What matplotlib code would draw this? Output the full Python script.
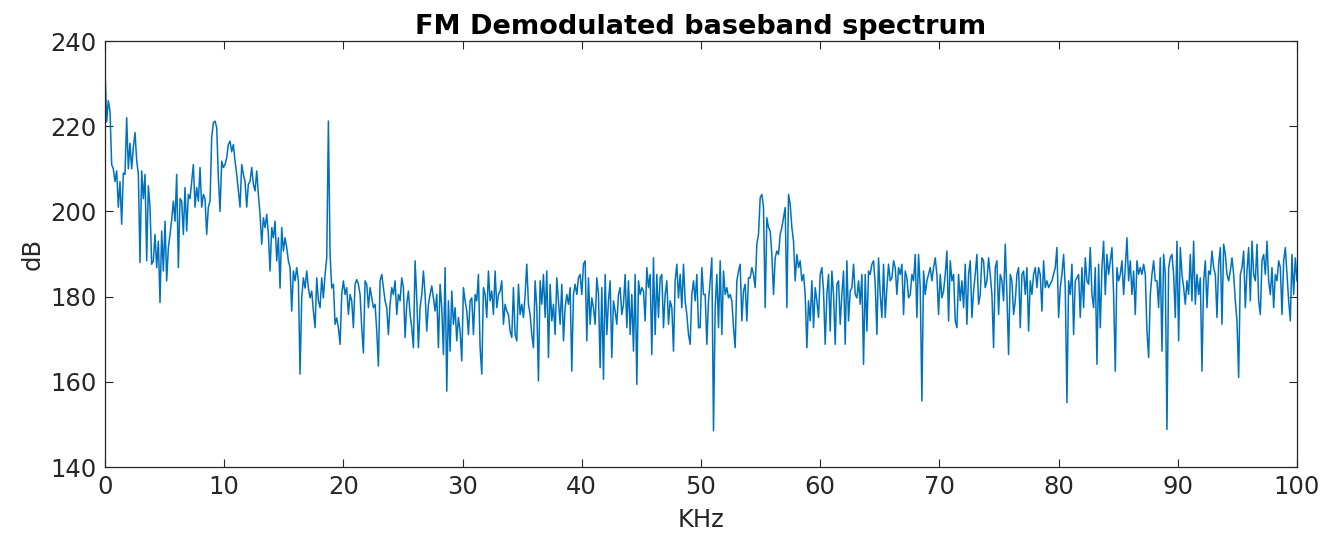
import numpy as np
import matplotlib
matplotlib.use("Agg")
import matplotlib.pyplot as plt

# dB values, band by band (uniform frequency bins)
db_00_10 = [233.5, 221, 226, 223.5, 211, 210, 207, 209.5, 201, 207,
            197, 209, 208.7, 222, 210, 216, 210, 215, 218.5, 212,
            208.7, 188, 209.5, 203, 208.7, 188.4, 206, 201, 187.6, 188.4,
            194.6, 186.8, 193, 178.6, 195.4, 186, 197.7, 183.7, 191.5, 194.6,
            198, 202.4, 197.7, 208.7, 186.8, 203, 202.4, 194.6, 205.6, 195.4,
            204, 203, 207, 211, 201, 205.6, 202.4, 210.3, 201, 204,
            203, 194.6, 201, 202.4, 217.3, 220.8, 221.2, 219.7, 208, 200,
            211.8, 210.3]
db_10_20 = [211, 212.6, 215.7, 216.5, 214, 215.7, 211.8, 208.7, 204.8, 201,
            211, 208.7, 207, 201, 206.4, 207, 210.3, 206.4, 204.8, 209.5,
            204, 199.3, 192.3, 198.5, 196.2, 199.3, 194.6, 186, 196.2, 193.8,
            197.7, 188.4, 193.8, 182, 196.2, 190.7, 193.8, 191.5, 188.4, 186.8,
            176.6, 186, 183.7, 186.8, 183.7, 161.8, 179.7, 184.4, 182, 186,
            182, 179.7, 181.3, 176.6, 172.7, 184.4, 179, 177.4, 184.4, 179.7,
            185.2, 189.1, 221.2, 190, 182, 182.9, 173.5, 175, 172.7, 168.8,
            180.5, 183.7]
db_20_30 = [180.5, 182.1, 175.8, 180.5, 179, 172.7, 182.9, 184, 182.9, 180.5,
            172.7, 166.8, 183.7, 182.9, 177.4, 182.1, 179.7, 177.4, 178.2, 171.9,
            163.7, 183.7, 185.2, 182.1, 179, 177.4, 171.1, 178.2, 182.1, 180.5,
            183.7, 175.8, 180.5, 179, 184.4, 182.1, 170.4, 178.2, 181.3, 175.8,
            172.7, 168, 188.4, 179.7, 168, 177.4, 180.5, 186, 180.5, 171.9,
            178.2, 180.5, 182.5, 179.7, 176.6, 180.5, 168, 182.9, 177.4, 166.4,
            186.8, 157.8, 179, 167.2, 181.3, 173.5, 177.4, 169.6, 175.1, 171.9,
            164.9, 182.1]
db_30_40 = [179, 176.6, 171.1, 179, 179.7, 171.1, 180.5, 179, 185.2, 168,
            161.8, 182.1, 180.5, 175.1, 186, 179, 181.3, 175.8, 186, 177.4,
            180.5, 181.3, 183.7, 173.5, 178.2, 176.6, 175.8, 171.9, 170.4, 182.1,
            171.1, 169.6, 182.9, 175.8, 178.2, 175.1, 180.5, 187.6, 178.2, 175.8,
            171.1, 168, 183.7, 177.4, 160.2, 183.7, 178.2, 185.2, 175.1, 186,
            165.7, 182.9, 174.3, 178.2, 171.1, 184.4, 179, 173.5, 182.9, 169.6,
            177.4, 180.5, 178.2, 182.1, 162.5, 180.5, 182.9, 180.5, 184.4, 185.2,
            180.5, 187.6]
db_40_50 = [188.4, 169.6, 184.4, 173.5, 179.7, 177.4, 173.5, 184.4, 180.5, 163.3,
            182.1, 160.6, 185.2, 171.1, 179, 183.7, 165.7, 179, 176.6, 173.5,
            180.5, 182.1, 175.8, 178.2, 185.2, 172.7, 183.7, 171.1, 180.5, 167.2,
            185.2, 159.4, 183.7, 180.5, 182.1, 181.3, 174.3, 186.8, 182.1, 185.2,
            166.4, 189.1, 171.1, 185.2, 175.1, 184.4, 185.2, 172.7, 180.5, 183.7,
            173.5, 179, 177.4, 167.2, 183.7, 187.6, 179.7, 185.2, 177.4, 187.6,
            179, 175.8, 171.1, 168.8, 180.5, 183.7, 179, 185.2, 172.7, 172.7,
            186.8, 180.5]
db_50_60 = [180.5, 168.8, 179, 183.7, 189.1, 148.5, 177.4, 185.2, 172.7, 188.4,
            171.1, 186, 180.5, 182.1, 179.7, 180.5, 179, 172.7, 168, 183.7,
            186, 187.6, 174.3, 181.3, 182.9, 174.3, 184.4, 184.4, 186.8, 185.2,
            182.1, 192.3, 194.6, 203.2, 204, 200.9, 177.4, 198.5, 196.2, 195.4,
            189.9, 180.5, 189.1, 190.7, 189.9, 194.6, 196.2, 198.5, 200.9, 177.4,
            204, 201.7, 196.2, 193, 183.7, 189.9, 186.8, 188.4, 183.7, 185.2,
            180.5, 168, 179, 174.3, 183.7, 172.7, 182.1, 179, 175.1, 185.2,
            186.8, 181.3]
db_60_70 = [168.8, 180.5, 185.2, 171.9, 186, 180.5, 168.8, 182.9, 183.7, 173.5,
            180.5, 186, 168.8, 188.4, 174.3, 181.3, 182.1, 187.6, 180.5, 179.7,
            183.7, 178.2, 185.2, 164.1, 185.2, 171.9, 186, 185.2, 187.6, 188.4,
            182.9, 171.1, 189.1, 180.5, 175.1, 187.6, 175.1, 182.1, 187.6, 183.7,
            184.4, 188.4, 186.8, 180.5, 186.8, 185.2, 187.6, 175.8, 186, 184.4,
            179.7, 180.5, 185.2, 183.7, 189.9, 175.1, 189.9, 182.1, 155.5, 186,
            180.5, 183.7, 185.2, 186.8, 183.7, 186.8, 189.1, 185.2, 175.8, 185.2,
            179.7, 181.3]
db_70_80 = [185.2, 190.7, 174.3, 188.4, 183.7, 185.2, 174.3, 172.7, 185.2, 179,
            183.7, 177.4, 187.6, 173.5, 185.2, 188.4, 175.1, 181.3, 185.2, 189.9,
            178.2, 180.5, 189.1, 188.4, 182.1, 183.7, 189.1, 185.2, 180.5, 168,
            186.8, 188.4, 175.8, 185.2, 183.7, 179, 192.3, 180.5, 166.4, 185.2,
            183.7, 175.8, 179, 185.2, 186.8, 172.7, 185.2, 186, 180.5, 186.8,
            171.9, 183.7, 180.5, 185.2, 186.8, 182.1, 186.8, 185.2, 176.6, 188.4,
            182.1, 183.7, 182.1, 182.9, 183.7, 185.2, 186.8, 191.5, 175.1, 182.1,
            185.2, 189.9]
db_80_90 = [182.1, 155.1, 183.7, 180.5, 187.6, 171.1, 183.7, 184.4, 185.2, 175.1,
            186.8, 177.4, 189.1, 183.7, 182.9, 191.5, 180.5, 177.4, 186.8, 164.1,
            187.6, 172.7, 186.8, 193, 180.5, 189.9, 185.2, 188.4, 191.5, 180.5,
            162.5, 186.8, 183.7, 185.2, 188.4, 180.5, 186.8, 193.8, 183.7, 188.4,
            180.5, 186, 175.8, 188.4, 185.2, 186.8, 185.2, 187.6, 185.2, 171.9,
            165.7, 180.5, 185.2, 188.4, 183.7, 183.7, 177.4, 189.1, 167.2, 189.9,
            185.2, 148.8, 186.8, 189.1, 189.9, 185.2, 175.1, 193, 169.6, 191.5,
            185.2, 182.1]
db_90_100 = [178.2, 183.7, 180.5, 189.9, 179, 193, 178.2, 185.2, 180.5, 184.4,
             162.5, 183.7, 188.4, 177.4, 186, 185.2, 190.7, 186.8, 185.2, 175.1,
             187.6, 191.5, 173.5, 192.3, 189.9, 185.2, 183.7, 186, 189.1, 185.2,
             179, 174.3, 161, 185.2, 186.8, 190.7, 177.4, 186, 191.5, 179,
             193, 185.2, 183.7, 192.3, 179, 175.8, 188.4, 189.9, 185.2, 193,
             183.7, 180.5, 186.8, 177.4, 185.2, 183.7, 188.4, 186.8, 175.8, 188.4,
             191.5, 185.2, 179, 174.3, 189.9, 180.5, 189.1, 183.7]

db = np.concatenate([db_00_10, db_10_20, db_20_30, db_30_40, db_40_50,
                     db_50_60, db_60_70, db_70_80, db_80_90, db_90_100])
khz = np.linspace(0, 100, len(db))

x_ticks = [0, 10, 20, 30, 40, 50, 60, 70, 80, 90, 100]
y_ticks = [140, 160, 180, 200, 220, 240]

plt.rcParams['font.family'] = ['DejaVu Sans']
fig = plt.figure(figsize=(13.37, 5.33), dpi=100)
ax = fig.add_axes([105/1337, 1 - 467/533, (1297 - 105)/1337, (467 - 41)/533])
ax.plot(khz, db, color='#0072BD', lw=1.1)
ax.set_xlim(0, 100)
ax.set_ylim(140, 240)
ax.set_xticks(x_ticks)
ax.set_yticks(y_ticks)
ax.tick_params(direction='in', length=6, width=0.8, colors='#262626',
               labelsize=17.5, top=True, right=True, pad=6)
for s in ax.spines.values():
    s.set_color('#262626')
    s.set_linewidth(0.9)
ax.set_xlabel('KHz', fontsize=17.5, color='#262626', labelpad=6)
ax.set_ylabel('dB', fontsize=17.5, color='#262626', labelpad=4)
ax.set_title('FM Demodulated baseband spectrum', fontsize=19.5, fontweight='bold',
             color='black', pad=5)
fig.savefig('out.png', dpi=100)
